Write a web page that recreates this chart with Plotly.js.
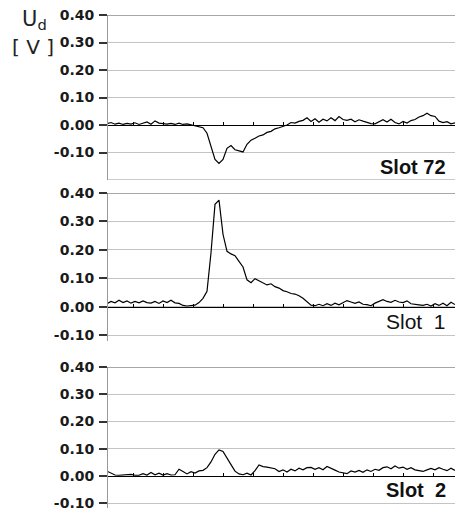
<!DOCTYPE html>
<html>
<head>
<meta charset="utf-8">
<script src="https://cdn.plot.ly/plotly-3.0.1.min.js"></script>
<style>html,body{margin:0;padding:0;background:#fff;}#chart{width:455px;height:509px;}</style>
</head>
<body>
<div id="chart"></div>
<script>
// sample index (time axis, arbitrary units)
const sampleTime = [0,1,2,3,4,5,6,7,8,9,10,11,12,13,14,15,16,17,18,19,20,21,22,23,24,25,26,27,28,29,
  30,31,32,33,34,35,36,37,38,39,40,41,42,43,44,45,46,47,48,49,50,51,52,53,54,55,56,57,58,59,
  60,61,62,63,64,65,66,67,68,69,70,71,72,73,74,75,76,77,78,79,80,81,82,83,84,85,86,87];

// Ud [V] for Slot 72
const slot72 = [
  0.005,0.009,0.003,0.007,0.002,0.006,0.003,0.008,0.002,0.007,0.011,
  0.003,0.015,0.007,0.006,0.003,0.006,0.002,0.007,0.002,0.004,0.001,
  -0.002,-0.005,-0.010,-0.030,-0.080,-0.125,-0.140,-0.125,-0.085,-0.075,-0.090,
  -0.095,-0.098,-0.070,-0.055,-0.048,-0.040,-0.036,-0.027,-0.023,-0.014,-0.010,
  -0.005,0.000,0.009,0.007,0.013,0.017,0.026,0.013,0.023,0.010,0.021,
  0.015,0.026,0.016,0.031,0.020,0.017,0.021,0.012,0.019,0.014,0.010,
  0.005,0.004,0.011,0.019,0.011,0.021,0.009,0.004,0.013,0.007,0.016,
  0.020,0.029,0.034,0.043,0.034,0.031,0.014,0.009,0.012,0.004,0.008];

// Ud [V] for Slot 1
const slot1 = [
  0.011,0.019,0.014,0.023,0.015,0.021,0.013,0.019,0.014,0.021,0.015,
  0.013,0.019,0.012,0.021,0.015,0.023,0.014,0.012,0.005,0.003,0.004,
  0.006,0.015,0.030,0.055,0.190,0.360,0.375,0.255,0.195,0.186,0.180,
  0.160,0.140,0.095,0.085,0.099,0.091,0.086,0.077,0.081,0.071,0.066,
  0.057,0.053,0.047,0.045,0.039,0.030,0.018,0.006,0.004,0.009,0.004,
  0.011,0.005,0.013,0.007,0.016,0.022,0.017,0.012,0.017,0.009,0.008,
  0.004,0.013,0.018,0.025,0.019,0.016,0.023,0.017,0.015,0.021,0.011,
  0.010,0.007,0.005,0.009,0.003,0.011,0.005,0.013,0.004,0.016,0.008];

// Ud [V] for Slot 2
const slot2 = [
  0.018,0.012,0.004,0.003,0.004,0.003,0.006,0.003,0.003,0.009,0.004,
  0.013,0.005,0.011,0.004,0.009,0.004,0.005,0.025,0.017,0.008,0.016,
  0.011,0.019,0.021,0.031,0.052,0.080,0.096,0.090,0.068,0.042,0.018,
  0.008,0.005,0.011,0.004,0.020,0.041,0.035,0.033,0.029,0.027,0.017,
  0.023,0.015,0.025,0.019,0.029,0.023,0.031,0.032,0.025,0.031,0.023,
  0.035,0.027,0.022,0.015,0.012,0.009,0.019,0.015,0.021,0.014,0.023,
  0.017,0.025,0.021,0.031,0.034,0.027,0.037,0.029,0.033,0.025,0.031,
  0.023,0.020,0.017,0.023,0.028,0.023,0.031,0.025,0.020,0.029,0.021];

const yTickVals = [-0.1, 0, 0.1, 0.2, 0.3, 0.4];
const yTickText = ['-0.10', '0.00', '0.10', '0.20', '0.30', '0.40'];
const slotNames = ['Slot 72', 'Slot\u00a0\u00a01', 'Slot\u00a0\u00a02'];

const H = 509;
const panels = [
  {top: 15,  bot: 180, range: [-0.2, 0.4]},
  {top: 193, bot: 341, range: [-0.12, 0.4]},
  {top: 367, bot: 508, range: [-0.117, 0.4]}
];
const series = [slot72, slot1, slot2];

const data = [];
const layout = {
  width: 455, height: 509,
  margin: {l: 107, r: 0, t: 0, b: 0},
  paper_bgcolor: '#fff', plot_bgcolor: '#fff',
  showlegend: false,
  shapes: [], annotations: []
};

panels.forEach((p, i) => {
  const n = i === 0 ? '' : String(i + 1);
  const dom = [1 - p.bot / H, 1 - p.top / H];
  const zeroPos = dom[0] + (0 - p.range[0]) / (p.range[1] - p.range[0]) * (dom[1] - dom[0]);
  data.push({
    x: sampleTime, y: series[i], xaxis: 'x' + n, yaxis: 'y' + n,
    type: 'scatter', mode: 'lines',
    line: {color: '#000', width: 1.2}, hoverinfo: 'skip'
  });
  layout['xaxis' + n] = {
    domain: [0, 1], range: [0, 87], anchor: 'free', position: zeroPos,
    showline: true, linecolor: '#000', linewidth: 1.3,
    ticks: 'inside', ticklen: 3, tickcolor: '#000', tickwidth: 1,
    tick0: 21.5, dtick: 7.5,
    showticklabels: false, showgrid: false, zeroline: false, fixedrange: true
  };
  layout['yaxis' + n] = {
    domain: dom, range: p.range, anchor: 'free', position: 0,
    tickmode: 'array', tickvals: yTickVals, ticktext: yTickText,
    showgrid: true, gridcolor: '#c4c4c4', gridwidth: 1,
    showline: true, linecolor: '#9a9a9a', linewidth: 1,
    ticks: 'outside', ticklen: 8, tickwidth: 2, tickcolor: '#333',
    ticklabelstandoff: 2, ticklabeloverflow: 'allow',
    zeroline: false, fixedrange: true,
    tickfont: {family: 'DejaVu Sans', size: 14, color: '#1a1a1a', weight: 'bold'}
  };
  layout.shapes.push({type: 'line', xref: 'paper', yref: 'y' + n, x0: 0, x1: 1, y0: 0.4, y1: 0.4,
    line: {color: '#8a8a8a', width: 1.5}});
  layout.annotations.push({
    xref: 'paper', yref: 'paper', x: (448 - 107) / 348,
    y: 1 - [167, 321, 490][i] / H, xanchor: 'right', yanchor: 'middle',
    text: slotNames[i], showarrow: false,
    font: {family: 'Liberation Sans', size: i === 1 ? 21 : 20, color: '#111', weight: i === 1 ? 'normal' : 'bold'}
  });
});
layout.shapes.push({type: 'line', xref: 'paper', yref: 'y', x0: 0, x1: 1, y0: -0.2, y1: -0.2,
  line: {color: '#9a9a9a', width: 1.2}});

layout.annotations.push({
  xref: 'paper', yref: 'paper', x: (34 - 107) / 348, y: 1 - 20 / H,
  xanchor: 'center', yanchor: 'middle', showarrow: false,
  text: 'U<sub>d</sub>', font: {family: 'DejaVu Sans', size: 21, color: '#222'}
});
layout.annotations.push({
  xref: 'paper', yref: 'paper', x: (33 - 107) / 348, y: 1 - 47 / H,
  xanchor: 'center', yanchor: 'middle', showarrow: false,
  text: '[ V ]', font: {family: 'DejaVu Sans', size: 20, color: '#222'}
});

Plotly.newPlot('chart', data, layout, {staticPlot: true, displayModeBar: false});
</script>
</body>
</html>
